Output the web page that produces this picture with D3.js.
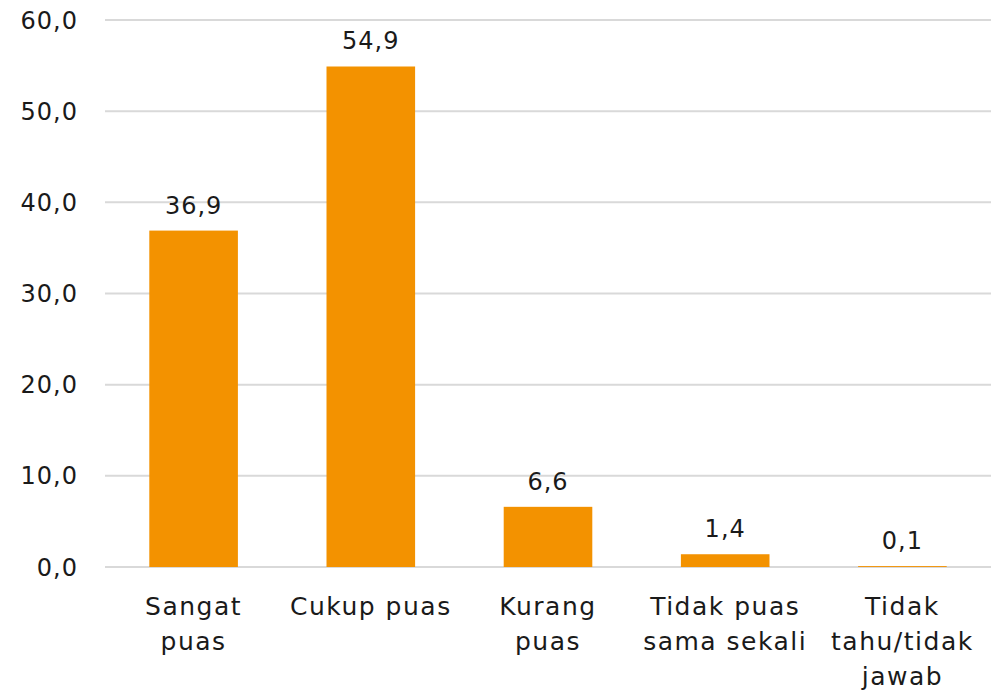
<!DOCTYPE html>
<html><head><meta charset="utf-8">
<script src="https://cdnjs.cloudflare.com/ajax/libs/d3/7.8.5/d3.min.js"></script>
<style>body{margin:0;background:#fff}svg{display:block}text{font-family:"DejaVu Sans",sans-serif;fill:#1a1a1a}</style>
</head><body>
<script>
const categories = [["Sangat","puas"],["Cukup puas"],["Kurang","puas"],["Tidak puas","sama sekali"],["Tidak","tahu/tidak","jawab"]];
const values = [36.9, 54.9, 6.6, 1.4, 0.1];
const valueLabels = ["36,9","54,9","6,6","1,4","0,1"];
const yTicks = [0,10,20,30,40,50,60];
const yTickLabels = ["0,0","10,0","20,0","30,0","40,0","50,0","60,0"];

const W=998,H=692;
const svg=d3.select("body").append("svg").attr("width",W).attr("height",H);
const x=d3.scaleBand().domain(d3.range(categories.length)).range([105,991]).paddingInner(0.5).paddingOuter(0.25);
const y=d3.scaleLinear().domain([0,60]).range([567,20]);

svg.append("g").selectAll("line").data(yTicks).join("line")
 .attr("x1",105).attr("x2",991).attr("y1",d=>y(d)).attr("y2",d=>y(d))
 .attr("stroke","#d9d9d9").attr("stroke-width",2);

svg.append("g").selectAll("text").data(yTicks).join("text")
 .attr("x",78).attr("y",d=>y(d)).attr("dy","0.36em").attr("text-anchor","end")
 .style("font-size","24px").style("letter-spacing","1px").text((d,i)=>yTickLabels[i]);

svg.append("g").selectAll("rect").data(values).join("rect")
 .attr("x",(d,i)=>x(i)).attr("width",x.bandwidth())
 .attr("y",d=>y(d)).attr("height",d=>y(0)-y(d)).attr("fill","#f39200");

svg.append("g").selectAll("text").data(values).join("text")
 .attr("x",(d,i)=>x(i)+x.bandwidth()/2).attr("y",d=>y(d)-17)
 .attr("text-anchor","middle").style("font-size","24px").style("letter-spacing","1px").text((d,i)=>valueLabels[i]);

const cl=svg.append("g").selectAll("text").data(categories).join("text")
 .attr("x",(d,i)=>x(i)+x.bandwidth()/2).attr("y",615)
 .attr("text-anchor","middle").style("font-size","25px").style("letter-spacing","1.5px");
cl.selectAll("tspan").data(d=>d).join("tspan")
 .attr("x",function(){return this.parentNode.getAttribute("x");})
 .attr("dy",(d,i)=>i===0?0:35).text(d=>d);
</script>
</body></html>
